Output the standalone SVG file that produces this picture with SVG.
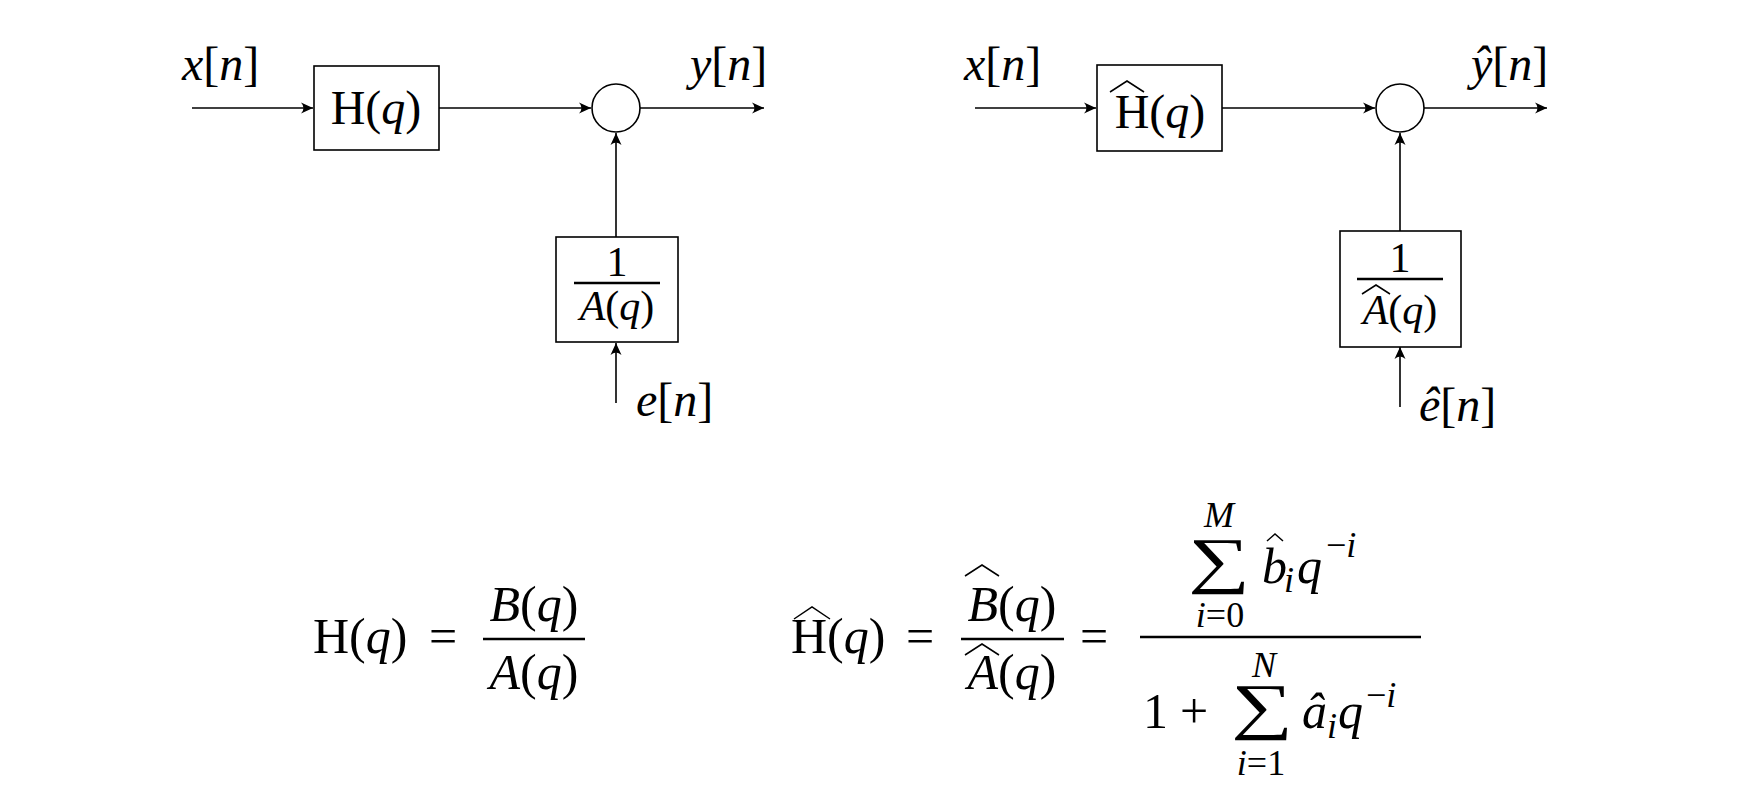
<svg xmlns="http://www.w3.org/2000/svg" width="1751" height="807" viewBox="0 0 1751 807">
<style>
.t { font-family: "Liberation Serif", "Times New Roman", serif; font-size: 48px; fill: #000; }
.f { font-size: 42px; }
.e { font-size: 50px; }
.s { font-size: 36px; }
.it { font-style: italic; }
.sum { font-family: "Liberation Serif", "Times New Roman", serif; font-size: 62px; fill: #000; }
.box { fill: #fff; stroke: #000; stroke-width: 1.6; }
.ln { fill: none; stroke: #000; stroke-width: 1.6; }
.bar { stroke: #000; stroke-width: 2.5; }
.hat { fill: none; stroke: #000; stroke-width: 1.5; stroke-linejoin: miter; }
</style>
<defs>
<marker id="arr" viewBox="-13 -6 14 12" refX="0" refY="0" markerWidth="14" markerHeight="12" markerUnits="userSpaceOnUse" orient="auto">
<path d="M0,0 L-12,-5.5 Q-7,0 -12,5.5 Z" fill="#000"/>
</marker>
</defs>
<rect width="1751" height="807" fill="#fff"/>

<g id="connectors">
<line class="ln" x1="192" y1="108" x2="313" y2="108" marker-end="url(#arr)"/>
<line class="ln" x1="439" y1="108" x2="591" y2="108" marker-end="url(#arr)"/>
<line class="ln" x1="640" y1="108" x2="764" y2="108" marker-end="url(#arr)"/>
<line class="ln" x1="616" y1="237" x2="616" y2="133" marker-end="url(#arr)"/>
<line class="ln" x1="616" y1="403" x2="616" y2="343" marker-end="url(#arr)"/>

<line class="ln" x1="975" y1="108" x2="1096" y2="108" marker-end="url(#arr)"/>
<line class="ln" x1="1222" y1="108" x2="1375" y2="108" marker-end="url(#arr)"/>
<line class="ln" x1="1424" y1="108" x2="1547" y2="108" marker-end="url(#arr)"/>
<line class="ln" x1="1400" y1="231" x2="1400" y2="133" marker-end="url(#arr)"/>
<line class="ln" x1="1400" y1="407" x2="1400" y2="347" marker-end="url(#arr)"/>
</g>

<g id="label-x-left"><text class="t" x="182" y="80"><tspan class="it">x</tspan>[<tspan class="it">n</tspan>]</text></g>
<g id="node-H">
<rect class="box" x="314" y="66" width="125" height="84"/>
<text class="t" x="376" y="124" text-anchor="middle">H(<tspan class="it">q</tspan>)</text>
</g>
<g id="node-sum-left"><circle class="box" cx="616" cy="108" r="24"/></g>
<g id="label-y-left"><text class="t" x="690" y="80"><tspan class="it">y</tspan>[<tspan class="it">n</tspan>]</text></g>
<g id="node-invA">
<rect class="box" x="556" y="237" width="122" height="105"/>
<text class="t f" x="617" y="276" text-anchor="middle">1</text>
<line class="bar" x1="574" y1="283" x2="660" y2="283"/>
<text class="t f" x="617" y="320" text-anchor="middle"><tspan class="it">A</tspan>(<tspan class="it">q</tspan>)</text>
</g>
<g id="label-e-left"><text class="t" x="636" y="416"><tspan class="it">e</tspan>[<tspan class="it">n</tspan>]</text></g>

<g id="label-x-right"><text class="t" x="964" y="80"><tspan class="it">x</tspan>[<tspan class="it">n</tspan>]</text></g>
<g id="node-Hhat">
<rect class="box" x="1097" y="65" width="125" height="86"/>
<text class="t" x="1160" y="128" text-anchor="middle">H(<tspan class="it">q</tspan>)</text>
<path class="hat" d="M1110,92 L1127,81 L1144,92"/>
</g>
<g id="node-sum-right"><circle class="box" cx="1400" cy="108" r="24"/></g>
<g id="label-y-right"><text class="t" x="1471" y="80"><tspan class="it">ŷ</tspan>[<tspan class="it">n</tspan>]</text></g>
<g id="node-invAhat">
<rect class="box" x="1340" y="231" width="121" height="116"/>
<text class="t f" x="1400" y="272" text-anchor="middle">1</text>
<line class="bar" x1="1357" y1="279" x2="1443" y2="279"/>
<text class="t f" x="1400" y="324" text-anchor="middle"><tspan class="it">A</tspan>(<tspan class="it">q</tspan>)</text>
<path class="hat" d="M1362,294 L1376,285 L1390,294"/>
</g>
<g id="label-e-right"><text class="t" x="1419" y="421"><tspan class="it">ê</tspan>[<tspan class="it">n</tspan>]</text></g>

<g id="eq-left">
<text class="t e" x="313" y="653">H(<tspan class="it">q</tspan>)</text>
<text class="t e" x="429" y="653">=</text>
<text class="t e" x="534" y="621" text-anchor="middle"><tspan class="it">B</tspan>(<tspan class="it">q</tspan>)</text>
<line class="bar" x1="483" y1="639" x2="585" y2="639"/>
<text class="t e" x="534" y="689" text-anchor="middle"><tspan class="it">A</tspan>(<tspan class="it">q</tspan>)</text>
</g>

<g id="eq-right">
<text class="t e" x="791" y="653">H(<tspan class="it">q</tspan>)</text>
<path class="hat" d="M794,619 L812,607 L830,619"/>
<text class="t e" x="906" y="653">=</text>
<text class="t e" x="1012" y="621" text-anchor="middle"><tspan class="it">B</tspan>(<tspan class="it">q</tspan>)</text>
<path class="hat" d="M965,576 L982,565 L999,576"/>
<line class="bar" x1="961" y1="639" x2="1064" y2="639"/>
<text class="t e" x="1012" y="689" text-anchor="middle"><tspan class="it">A</tspan>(<tspan class="it">q</tspan>)</text>
<path class="hat" d="M965,655 L982,644 L999,655"/>
<text class="t e" x="1080" y="653">=</text>
<line class="bar" x1="1140" y1="637" x2="1421" y2="637"/>

<text class="t s it" x="1219" y="527" text-anchor="middle">M</text>
<text class="sum" transform="translate(1219,581) scale(1.4,1)" text-anchor="middle">∑</text>
<text class="t s" x="1220" y="627" text-anchor="middle"><tspan class="it">i</tspan>=0</text>
<text class="t e it" x="1262" y="583">b</text>
<path class="hat" d="M1267,541 L1275,534 L1283,541"/>
<text class="t s it" x="1284" y="592">i</text>
<text class="t e it" x="1297" y="583">q</text>
<text class="t s" x="1326" y="557">−<tspan class="it">i</tspan></text>

<text class="t e" x="1143" y="728">1</text>
<text class="t e" x="1180" y="728">+</text>
<text class="t s it" x="1264" y="677" text-anchor="middle">N</text>
<text class="sum" transform="translate(1262,727) scale(1.4,1)" text-anchor="middle">∑</text>
<text class="t s" x="1261" y="775" text-anchor="middle"><tspan class="it">i</tspan>=1</text>
<text class="t e it" x="1302" y="728">â</text>
<text class="t s it" x="1327" y="738">i</text>
<text class="t e it" x="1338" y="728">q</text>
<text class="t s" x="1366" y="707">−<tspan class="it">i</tspan></text>
</g>
</svg>
